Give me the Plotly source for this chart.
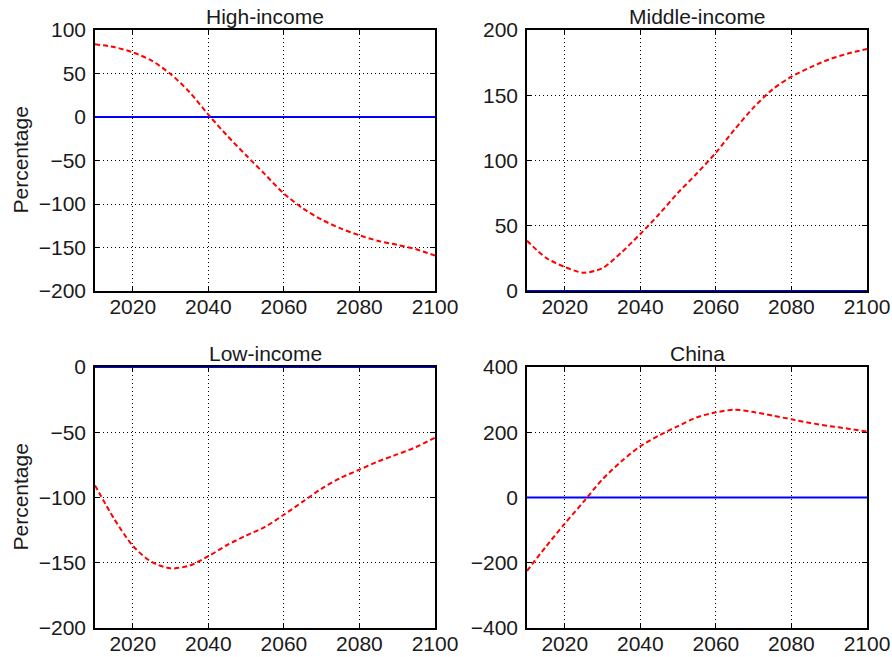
import plotly.graph_objects as go

years = [2010, 2015, 2020, 2025, 2030, 2035, 2040, 2045, 2050, 2055, 2060,
         2065, 2070, 2075, 2080, 2085, 2090, 2095, 2100]

high_income = [83.5, 80.5, 74.3, 64.8, 49.4, 28.7, 2.7, -21.5, -44, -66, -88,
               -105, -118, -128, -136, -142.5, -147, -152, -159.4]
middle_income = [38.5, 25.5, 18.4, 14, 17.6, 29.6, 43.7, 59, 75.4, 90.2, 106,
                 124, 140.7, 154.5, 164.2, 171.4, 177.5, 182, 185.4]
low_income = [-90.7, -116, -137, -149.4, -154.3, -152.2, -145, -136.4, -129.2,
              -122.5, -113.2, -103.2, -93.2, -85, -78.7, -72.3, -67, -61.3, -54.2]
china = [-225, -150.6, -80, -12.7, 56, 111, 157, 190.6, 219, 246, 261, 269,
         262, 251, 239.6, 228.4, 219, 211, 202]
baseline = [0] * len(years)

titles = ["High-income", "Middle-income", "Low-income", "China"]
series = [high_income, middle_income, low_income, china]
y_ranges = [[-200, 100], [0, 200], [-200, 0], [-400, 400]]
y_dticks = [50, 50, 50, 200]
x_ticks = [2020, 2040, 2060, 2080, 2100]

W, H = 892, 657
x_doms = [[95 / W, 435 / W], [527 / W, 867 / W]]
y_doms = [[1 - 291 / H, 1 - 30 / H], [1 - 628 / H, 1 - 367 / H]]

FONT = "Liberation Sans, Arial, sans-serif"
FS = 21
TXT = "#1a1a1a"
fig = go.Figure()
layout = dict(
    width=W, height=H, margin=dict(l=0, r=0, t=0, b=0, autoexpand=False),
    paper_bgcolor="white", plot_bgcolor="white", showlegend=False,
    font=dict(family=FONT, size=FS, color=TXT),
)
annotations = []
for i in range(4):
    r, c = divmod(i, 2)
    xa = "x" if i == 0 else f"x{i+1}"
    ya = "y" if i == 0 else f"y{i+1}"
    xkey = "xaxis" if i == 0 else f"xaxis{i+1}"
    ykey = "yaxis" if i == 0 else f"yaxis{i+1}"
    fig.add_trace(go.Scatter(x=years, y=baseline, mode="lines", xaxis=xa, yaxis=ya,
                             line=dict(color="#0000ff", width=2.2)))
    fig.add_trace(go.Scatter(x=years, y=series[i], mode="lines", xaxis=xa, yaxis=ya,
                             line=dict(color="#ff0000", width=2, dash="5px,3px",
                                       shape="spline", smoothing=0.8)))
    common = dict(showline=True, linecolor="black", linewidth=1.5, mirror="ticks",
                  ticks="inside", ticklen=5, tickcolor="black", tickwidth=1,
                  showgrid=True, gridcolor="black", gridwidth=1, griddash="1px,3px",
                  zeroline=False, automargin=False, layer="below traces",
                  tickfont=dict(size=FS, family=FONT, color=TXT))
    layout[xkey] = dict(domain=x_doms[c], range=[2010, 2100], tickvals=x_ticks,
                        anchor=ya, ticklabelstandoff=-4, **common)
    layout[ykey] = dict(domain=y_doms[r], range=y_ranges[i], dtick=y_dticks[i],
                        tick0=0, anchor=xa, ticklabelstandoff=3, **common)
    annotations.append(dict(text=titles[i], x=(x_doms[c][0] + x_doms[c][1]) / 2,
                            y=y_doms[r][1], xref="paper", yref="paper",
                            xanchor="center", yanchor="bottom", yshift=0,
                            showarrow=False, font=dict(size=FS, family=FONT, color=TXT)))
    if c == 0:
        annotations.append(dict(text="Percentage", x=20 / W,
                                y=(y_doms[r][0] + y_doms[r][1]) / 2,
                                xref="paper", yref="paper", xanchor="center",
                                yanchor="middle", textangle=-90, showarrow=False,
                                font=dict(size=FS, family=FONT, color=TXT)))
layout["annotations"] = annotations
fig.update_layout(**layout)
fig.write_html("out.html")
